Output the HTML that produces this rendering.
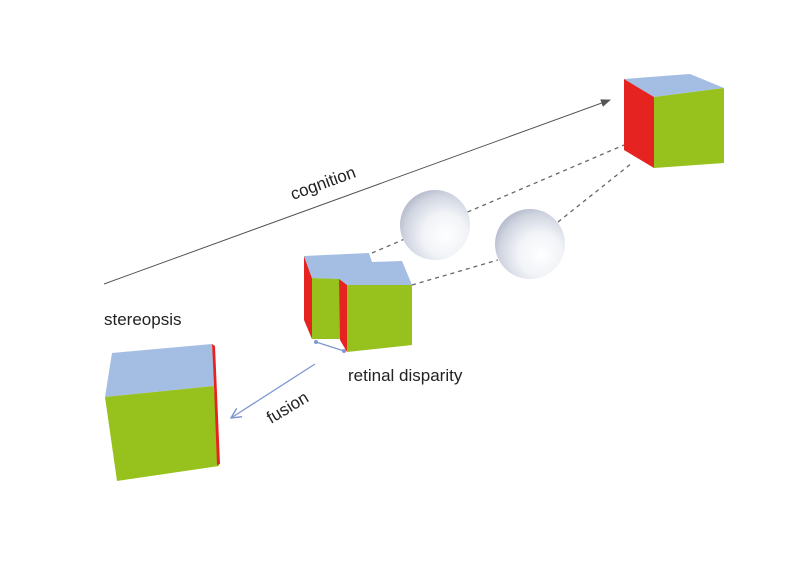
<!DOCTYPE html>
<html><head><meta charset="utf-8"><style>
html,body{margin:0;padding:0;background:#fff;}
svg{display:block;}
text{font-family:"Liberation Sans",sans-serif;fill:#222;font-size:17px;}
</style></head><body>
<svg width="800" height="566" viewBox="0 0 800 566" xmlns="http://www.w3.org/2000/svg">
<defs>
<radialGradient id="sp" cx="0.62" cy="0.62" r="0.7" fx="0.66" fy="0.66">
<stop offset="0" stop-color="#ffffff"/>
<stop offset="0.45" stop-color="#f1f3f7"/>
<stop offset="0.8" stop-color="#cfd4e0"/>
<stop offset="1" stop-color="#aeb5c6"/>
</radialGradient>
<marker id="ag" markerWidth="10" markerHeight="8" refX="9" refY="4" orient="auto" markerUnits="userSpaceOnUse">
<path d="M0,0 L10,4 L0,8 z" fill="#555"/></marker>
<marker id="ab" markerWidth="12" markerHeight="12" refX="11" refY="6" orient="auto" markerUnits="userSpaceOnUse">
<path d="M1,1 L11,6 L1,11" fill="none" stroke="#7f98d0" stroke-width="1.5"/></marker>
<marker id="sb" markerWidth="6" markerHeight="6" refX="3" refY="3" markerUnits="userSpaceOnUse">
<circle cx="3" cy="3" r="2" fill="#7f98d0"/></marker>
</defs>

<line x1="104" y1="284" x2="610" y2="100" stroke="#555" stroke-width="1" marker-end="url(#ag)"/>
<text x="0" y="0" transform="translate(293,200) rotate(-20)">cognition</text>

<line x1="372" y1="253" x2="624" y2="145" stroke="#666" stroke-width="1.3" stroke-dasharray="4,4"/>
<line x1="412" y1="285" x2="498" y2="260" stroke="#666" stroke-width="1.3" stroke-dasharray="4,4"/>
<line x1="558" y1="222" x2="632" y2="163" stroke="#666" stroke-width="1.3" stroke-dasharray="4,4"/>

<circle cx="435" cy="225" r="35" fill="url(#sp)"/>
<circle cx="530" cy="244" r="35" fill="url(#sp)"/>

<polygon points="624,79 690,74 724,88 654,97" fill="#a3bde3"/>
<polygon points="624,79 654,97 654,168 624,150" fill="#e52421"/>
<polygon points="654,97 724,88 724,163 654,168" fill="#97c21d"/>

<polygon points="304,256 312,278 312,339 304,320" fill="#e52421"/>
<polygon points="312,278 345,279 345,339 312,339" fill="#97c21d"/>
<polygon points="304,256 369,253 372,262 402,261 412,285 347,285 339,279 312,278" fill="#a3bde3"/>
<polygon points="339,279 347,285 347,352 340,340" fill="#e52421"/>
<polygon points="347,285 412,285 412,345 347,352" fill="#97c21d"/>

<line x1="316" y1="342" x2="344" y2="351" stroke="#7f98d0" stroke-width="1.3" marker-start="url(#sb)" marker-end="url(#sb)"/>
<text x="348" y="381">retinal disparity</text>

<text x="104" y="325">stereopsis</text>

<line x1="315" y1="364" x2="231" y2="418" stroke="#7f98d0" stroke-width="1.3" marker-end="url(#ab)"/>
<text x="0" y="0" transform="translate(271,424) rotate(-31)">fusion</text>

<polygon points="112,353 212,344 214,386 105,397" fill="#a3bde3"/>
<polygon points="105,397 214,386 219,466 117,481" fill="#97c21d"/>
<polygon points="212,344 215,346 220,464 217,465 214,386" fill="#e52421"/>
</svg>
</body></html>
